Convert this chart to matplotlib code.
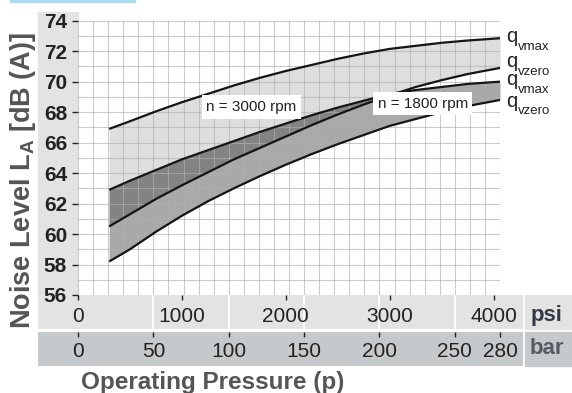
import matplotlib
matplotlib.use('Agg')
import matplotlib.pyplot as plt
import numpy as np
from matplotlib.patches import Rectangle

plt.rcParams['font.family'] = ['Liberation Sans', 'DejaVu Sans']
plt.rcParams['mathtext.fontset'] = 'custom'
plt.rcParams['mathtext.rm'] = 'Liberation Sans'
plt.rcParams['mathtext.bf'] = 'Liberation Sans:bold'

PSI_PER_BAR = 14.5038

# ---- data ----
pressure_psi = [300, 500, 750, 1000, 1250, 1500, 1750, 2000, 2250, 2500, 2750,
                3000, 3250, 3500, 3750, 4061]
q_vmax_3000 = [66.9, 67.4, 68.05, 68.65, 69.2, 69.75, 70.25, 70.7, 71.1, 71.5,
               71.85, 72.15, 72.35, 72.55, 72.7, 72.85]
q_vzero_3000 = [60.5, 61.3, 62.3, 63.2, 64.05, 64.9, 65.65, 66.4, 67.15, 67.85,
                68.5, 69.1, 69.65, 70.1, 70.5, 70.9]
q_vmax_1800 = [62.9, 63.5, 64.2, 64.9, 65.5, 66.1, 66.7, 67.25, 67.8, 68.3,
               68.75, 69.2, 69.45, 69.65, 69.85, 70.0]
q_vzero_1800 = [58.2, 59.0, 60.15, 61.2, 62.15, 63.0, 63.8, 64.55, 65.25, 65.9,
                66.5, 67.1, 67.55, 68.0, 68.4, 68.8]

y_ticks = [56, 58, 60, 62, 64, 66, 68, 70, 72, 74]
psi_ticks = [0, 1000, 2000, 3000, 4000]
bar_ticks = [0, 50, 100, 150, 200, 250, 280]
rpm_labels = ['n = 3000 rpm', 'n = 1800 rpm']
rpm_label_pos = [(1668, 68.34), (3317, 68.54)]
right_main = ['q', 'q', 'q', 'q']
right_sub = ['vmax', 'vzero', 'vmax', 'vzero']
right_label_y = [72.60, 70.96, 69.78, 68.34]

# ---- layout helpers (pixel -> figure fraction) ----
W, H = 572, 393
fig = plt.figure(figsize=(W / 100, H / 100), dpi=100)
fig.patch.set_facecolor('white')


def fx(px):
    return px / W


def fy(py):
    return 1 - py / H


X0, X1, Y0, Y1 = 78, 500, 20.7, 295
x_max = 280 * PSI_PER_BAR


def px_to_psi(px):
    return (px - X0) / (X1 - X0) * x_max


def px_to_bar(px):
    return (px - X0) / (X1 - X0) * 280


def add_rect(x0, y0, x1, y1, color):
    fig.patches.append(Rectangle((fx(x0), fy(y1)), fx(x1) - fx(x0), fy(y0) - fy(y1),
                                 transform=fig.transFigure, color=color, zorder=-5))


add_rect(10, 0, 135, 2, '#a8dcef')      # decorative top-left strip
add_rect(38, 12, 78, 295, '#e3e3e3')    # y tick label column
add_rect(525, 295, 572, 329, '#e3e3e3')  # psi cell
add_rect(525, 332, 572, 366, '#c6c9cc')  # bar cell

# ---- main axes ----
ax = fig.add_axes([fx(X0), fy(Y1), fx(X1) - fx(X0), fy(Y0) - fy(Y1)])
ax.set_zorder(3)
ax.set_xlim(0, x_max)
ax.set_ylim(56, 74)
for s in ax.spines.values():
    s.set_visible(False)

ax.set_xticks(np.arange(0, 281, 10) * PSI_PER_BAR)
ax.tick_params(axis='x', length=0, labelbottom=False)
ax.set_yticks(y_ticks)
ax.set_yticks(np.arange(57, 74, 2), minor=True)
ax.tick_params(axis='y', which='major', length=4.3, width=1, pad=3.6,
               labelsize=15, colors='#222222')
ax.tick_params(axis='y', which='minor', length=0)
plt.setp(ax.get_yticklabels(), fontweight='bold')
ax.grid(True, which='both', color='#b0b0b0', alpha=0.65, lw=0.8)
ax.set_axisbelow(False)

x = np.array(pressure_psi)
A = np.array(q_vmax_3000)
C = np.array(q_vzero_3000)
B = np.array(q_vmax_1800)
D = np.array(q_vzero_1800)

ax.fill_between(x, C, A, color='#dedede', lw=0, zorder=1)
ax.fill_between(x, D, B, color='#a9a9a9', lw=0, zorder=1.1)
ax.fill_between(x, C, B, where=B >= C, interpolate=True, color='#838383', lw=0, zorder=1.2)

for series in (A, C, B, D):
    ax.plot(x, series, color='#151515', lw=1.6, zorder=3, solid_capstyle='butt',
            solid_joinstyle='round')

for txt, (px_, py_) in zip(rpm_labels, rpm_label_pos):
    ax.text(px_, py_, txt, ha='center', va='center', fontsize=11, color='#222222',
            zorder=5, bbox=dict(boxstyle='square,pad=0.3', fc='white', ec='none'))

for m, sub, yl in zip(right_main, right_sub, right_label_y):
    ax.text(px_to_psi(506), yl, m, fontsize=14.5, va='baseline', ha='left',
            color='#222222', clip_on=False)
    ax.text(px_to_psi(518), yl - 7.5 / 15.24, sub, fontsize=9.5, va='baseline',
            ha='left', color='#222222', clip_on=False)

# ---- psi band ----
axp = fig.add_axes([fx(38), fy(329), fx(523) - fx(38), fy(295) - fy(329)])
axp.set_zorder(1)
axp.set_xlim(px_to_psi(38), px_to_psi(523))
axp.set_ylim(0, 1)
axp.set_facecolor('#e3e3e3')
for s in axp.spines.values():
    s.set_visible(False)
axp.set_yticks([])
axp.set_xticks(psi_ticks)
axp.tick_params(axis='x', top=True, bottom=False, labeltop=True, labelbottom=False,
                direction='in', length=3.6, width=1, color='#222222',
                pad=-22.5, labelsize=15, labelcolor='#222222')
for b in [50, 100, 150, 200, 250]:
    axp.axvline(b * PSI_PER_BAR, color='white', lw=1.3, zorder=0.5)

# ---- bar band ----
axb = fig.add_axes([fx(38), fy(366), fx(523) - fx(38), fy(332) - fy(366)])
axb.set_zorder(1)
axb.set_xlim(px_to_bar(38), px_to_bar(523))
axb.set_ylim(0, 1)
axb.set_facecolor('#c6c9cc')
for s in axb.spines.values():
    s.set_visible(False)
axb.set_yticks([])
axb.set_xticks(bar_ticks)
axb.tick_params(axis='x', top=True, bottom=False, labeltop=True, labelbottom=False,
                direction='in', length=3.6, width=1, color='#222222',
                pad=-21.2, labelsize=15, labelcolor='#222222')

# unit labels
fig.text(fx(547), fy(315), 'psi', ha='center', va='center', fontsize=16,
         fontweight='bold', color='#333a45')
fig.text(fx(547), fy(349), 'bar', ha='center', va='center', fontsize=16,
         fontweight='bold', color='#555b62')

# axis titles
fig.text(fx(81), fy(389), 'Operating Pressure (p)', ha='left', va='baseline',
         fontsize=17.5, fontweight='bold', color='#555555')
fig.text(fx(23), fy(180), r'Noise Level L$_\mathbf{A}$ [dB (A)]', ha='center',
         va='center', rotation=90, fontsize=19.5, fontweight='bold', color='#555555')

fig.savefig('out.png', dpi=100)
